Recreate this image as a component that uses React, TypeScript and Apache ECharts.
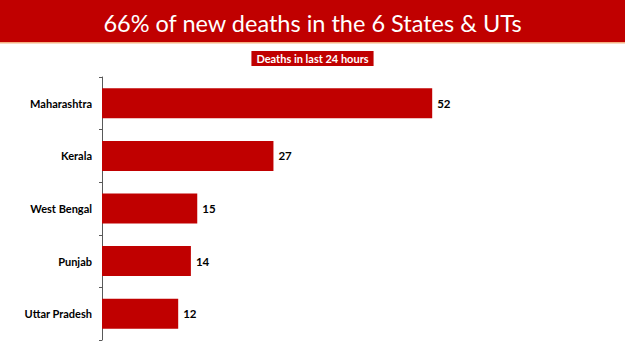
import React, { useEffect, useRef } from "react";
import * as echarts from "echarts";

const categories = ["Maharashtra", "Kerala", "West Bengal", "Punjab", "Uttar Pradesh"];
const deaths = [52, 27, 15, 14, 12];
const titleText = "66% of new deaths in the 6 States & UTs";
const subtitleText = "Deaths in last 24 hours";

export default function App() {
  const ref = useRef<HTMLDivElement>(null);
  useEffect(() => {
    document.body.style.margin = "0";
    const chart = echarts.init(ref.current!, null, { renderer: "svg" });
    chart.setOption({
      animation: false,
      backgroundColor: "#ffffff",
      graphic: [
        { type: "rect", shape: { x: 0, y: 0, width: 625, height: 42 }, style: { fill: "#C00000" }, z: 0 },
        { type: "rect", shape: { x: 0, y: 42, width: 625, height: 1.5 }, style: { fill: "#F4B183" }, z: 0 },
      ],
      title: [
        {
          text: titleText,
          left: "center",
          top: 6,
          textStyle: { color: "#ffffff", fontSize: 23.5, fontWeight: "normal", fontFamily: "Lato" },
          z: 10,
        },
        {
          text: subtitleText,
          left: "center",
          top: 51,
          backgroundColor: "#C00000",
          padding: [2, 5, 2, 5],
          textStyle: { color: "#ffffff", fontSize: 11, fontWeight: "bold", fontFamily: "Lato", lineHeight: 11 },
        },
      ],
      grid: { left: 102, top: 77, width: 381, height: 263, containLabel: false },
      xAxis: {
        type: "value",
        min: 0,
        max: 60,
        show: false,
        splitLine: { show: false },
      },
      yAxis: {
        type: "category",
        data: categories,
        inverse: true,
        boundaryGap: true,
        axisLine: { show: true, lineStyle: { color: "#595959", width: 1 } },
        axisTick: { show: true, length: 3, lineStyle: { color: "#595959" } },
        axisLabel: { color: "#000000", fontSize: 11, fontWeight: "bold", fontFamily: "Lato", margin: 10 },
      },
      series: [
        {
          type: "bar",
          data: deaths,
          barWidth: 30,
          itemStyle: { color: "#C00000" },
          label: {
            show: true,
            position: "right",
            distance: 5,
            color: "#000000",
            fontSize: 11.5,
            fontWeight: "bold",
            fontFamily: "Lato",
          },
        },
      ],
    });
    return () => chart.dispose();
  }, []);
  return <div ref={ref} style={{ width: 625, height: 351 }} />;
}
